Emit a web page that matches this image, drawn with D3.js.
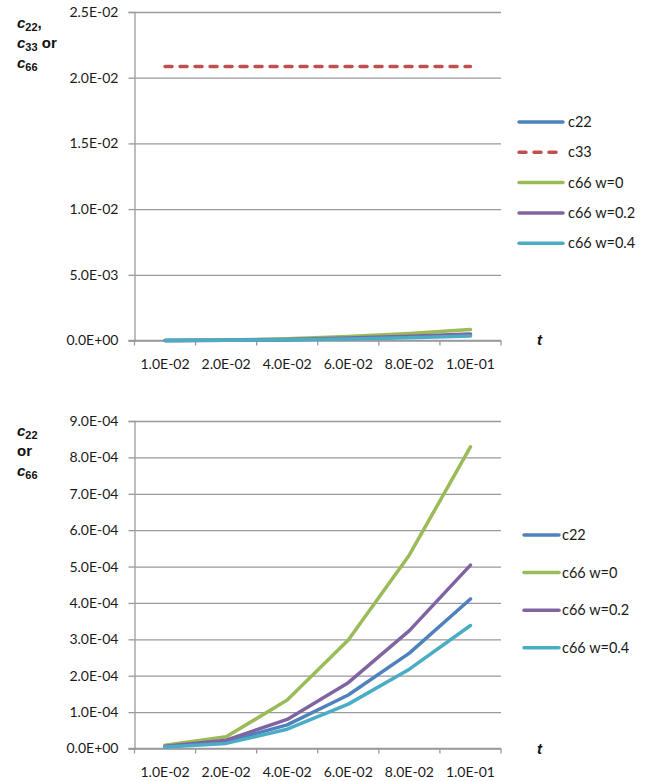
<!DOCTYPE html>
<html>
<head>
<meta charset="utf-8">
<script src="https://cdn.jsdelivr.net/npm/d3@7"></script>
<style>
  html, body { margin: 0; padding: 0; background: #fff; }
  svg { display: block; }
  .tick text { font-family: Lato, "Open Sans", sans-serif; font-size: 14px; fill: #1a1a1a; }
</style>
</head>
<body>
<svg id="chart" width="648" height="781"></svg>
<script>
// ---- data ----
const categories = ["1.0E-02", "2.0E-02", "4.0E-02", "6.0E-02", "8.0E-02", "1.0E-01"];
const c22     = [0.5e-5, 1.9e-5, 6.5e-5, 1.47e-4, 2.62e-4, 4.11e-4];
const c33     = [2.085e-2, 2.085e-2, 2.085e-2, 2.085e-2, 2.085e-2, 2.085e-2];
const c66w0   = [0.9e-5, 3.2e-5, 1.33e-4, 2.98e-4, 5.32e-4, 8.29e-4];
const c66w02  = [0.6e-5, 2.3e-5, 0.80e-4, 1.81e-4, 3.24e-4, 5.04e-4];
const c66w04  = [0.4e-5, 1.4e-5, 0.53e-4, 1.22e-4, 2.18e-4, 3.38e-4];
const yTicksTop    = [0, 0.005, 0.010, 0.015, 0.020, 0.025];
const yTicksBottom = [0, 1e-4, 2e-4, 3e-4, 4e-4, 5e-4, 6e-4, 7e-4, 8e-4, 9e-4];

const colors = { c22: "#4F81BD", c33: "#C0504D", w0: "#9BBB59", w02: "#8064A2", w04: "#4BACC6" };

const topSeries = [
  { name: "c22", values: c22, color: colors.c22 },
  { name: "c33", values: c33, color: colors.c33, dash: true },
  { name: "c66 w=0", values: c66w0, color: colors.w0 },
  { name: "c66 w=0.2", values: c66w02, color: colors.w02 },
  { name: "c66 w=0.4", values: c66w04, color: colors.w04 }
];
const bottomSeries = [
  { name: "c22", values: c22, color: colors.c22 },
  { name: "c66 w=0", values: c66w0, color: colors.w0 },
  { name: "c66 w=0.2", values: c66w02, color: colors.w02 },
  { name: "c66 w=0.4", values: c66w04, color: colors.w04 }
];

function fmtE(v) {
  if (v === 0) return "0.0E+00";
  const s = d3.format(".1e")(v); // e.g. 2.5e-2
  const [m, e] = s.split("e");
  const n = +e;
  return m + "E" + (n < 0 ? "-" : "+") + String(Math.abs(n)).padStart(2, "0");
}

const svg = d3.select("#chart");
const gridColor = "#9a9a9a";

function drawPanel(opt) {
  const { left, right, top, bottom, yMax, yTicks, series, legend, labelLines, tY } = opt;
  const g = svg.append("g");
  const x = d3.scaleBand().domain(categories).range([left, right]);
  const y = d3.scaleLinear().domain([0, yMax]).range([bottom, top]);

  // gridlines
  g.append("g")
    .attr("transform", `translate(${left},0)`)
    .call(d3.axisLeft(y).tickValues(yTicks).tickSize(-(right - left)).tickFormat(""))
    .call(a => a.select(".domain").remove())
    .call(a => a.selectAll("line").attr("stroke", gridColor).attr("stroke-width", 1.3));

  // y axis with outer ticks and labels
  g.append("g")
    .attr("transform", `translate(${left},0)`)
    .call(d3.axisLeft(y).tickValues(yTicks).tickSize(6).tickPadding(10).tickFormat(fmtE))
    .call(a => a.select(".domain").attr("stroke", gridColor).attr("stroke-width", 1.3))
    .call(a => a.selectAll(".tick line").attr("stroke", gridColor).attr("stroke-width", 1.3));

  // x axis line
  g.append("line")
    .attr("x1", left - 6).attr("x2", right)
    .attr("y1", bottom).attr("y2", bottom)
    .attr("stroke", gridColor).attr("stroke-width", 1.3);
  // x tick marks at band boundaries
  const bounds = categories.map(c => x(c)).concat([x(categories[categories.length - 1]) + x.bandwidth()]);
  g.selectAll(".xtick").data(bounds).enter().append("line")
    .attr("x1", d => d).attr("x2", d => d)
    .attr("y1", bottom).attr("y2", bottom + 5)
    .attr("stroke", gridColor).attr("stroke-width", 1.3);
  // x labels
  g.selectAll(".xlab").data(categories).enter().append("text")
    .attr("x", d => x(d) + x.bandwidth() / 2)
    .attr("y", bottom + 28)
    .attr("text-anchor", "middle")
    .style("font-family", "Lato, 'Open Sans', sans-serif")
    .style("font-size", "14px")
    .attr("fill", "#1a1a1a")
    .text(d => d);

  // series lines
  const line = d3.line()
    .x((d, i) => x(categories[i]) + x.bandwidth() / 2)
    .y(d => y(d));
  series.forEach(s => {
    g.append("path")
      .datum(s.values)
      .attr("d", line)
      .attr("fill", "none")
      .attr("stroke", s.color)
      .attr("stroke-width", 3.5)
      .attr("stroke-linejoin", "round")
      .attr("stroke-linecap", "round")
      .attr("stroke-dasharray", s.dash ? "7,8" : null);
  });

  // legend
  const lg = g.append("g");
  series.forEach((s, i) => {
    const ly = legend.y + i * legend.step;
    lg.append("line")
      .attr("x1", legend.x).attr("x2", legend.x + legend.len)
      .attr("y1", ly).attr("y2", ly)
      .attr("stroke", s.color).attr("stroke-width", 3.5)
      .attr("stroke-linecap", "round")
      .attr("stroke-dasharray", s.dash ? "7,8" : null);
    lg.append("text")
      .attr("x", legend.x + legend.len + legend.gap)
      .attr("y", ly + 5)
      .style("font-family", "Lato, 'Open Sans', sans-serif")
      .style("font-size", "14.5px")
      .attr("fill", "#1a1a1a")
      .text(s.name);
  });

  // y axis title
  const tl = g.append("g");
  labelLines.forEach(l => {
    const t = tl.append("text")
      .attr("x", 17).attr("y", l.y)
      .style("font-family", "'Liberation Sans', Arial, sans-serif")
      .style("font-weight", "bold")
      .style("font-size", "15px")
      .attr("fill", "#111");
    l.parts.forEach(p => {
      const ts = t.append("tspan").text(p.text);
      if (p.italic) ts.style("font-style", "italic");
      if (p.sub) ts.attr("baseline-shift", "-25%").style("font-size", "11px");
    });
  });

  // t label
  g.append("text")
    .attr("x", 537).attr("y", tY)
    .style("font-family", "'Liberation Sans', Arial, sans-serif")
    .style("font-weight", "bold").style("font-style", "italic")
    .style("font-size", "15px")
    .attr("fill", "#111")
    .text("t");
}

drawPanel({
  left: 134.5, right: 501, top: 12, bottom: 340.5,
  yMax: 0.025, yTicks: yTicksTop, series: topSeries,
  legend: { x: 519, y: 122, step: 30.3, len: 44, gap: 5 },
  labelLines: [
    { y: 28, parts: [{ text: "c", italic: true }, { text: "22", sub: true }, { text: "," }] },
    { y: 48, parts: [{ text: "c", italic: true }, { text: "33", sub: true }, { text: " or" }] },
    { y: 68, parts: [{ text: "c", italic: true }, { text: "66", sub: true }] }
  ],
  tY: 345
});

drawPanel({
  left: 134.5, right: 501, top: 421, bottom: 748.5,
  yMax: 9e-4, yTicks: yTicksBottom, series: bottomSeries,
  legend: { x: 524, y: 535, step: 37.6, len: 35, gap: 3 },
  labelLines: [
    { y: 436, parts: [{ text: "c", italic: true }, { text: "22", sub: true }] },
    { y: 456, parts: [{ text: "or" }] },
    { y: 476, parts: [{ text: "c", italic: true }, { text: "66", sub: true }] }
  ],
  tY: 754
});
</script>
</body>
</html>
